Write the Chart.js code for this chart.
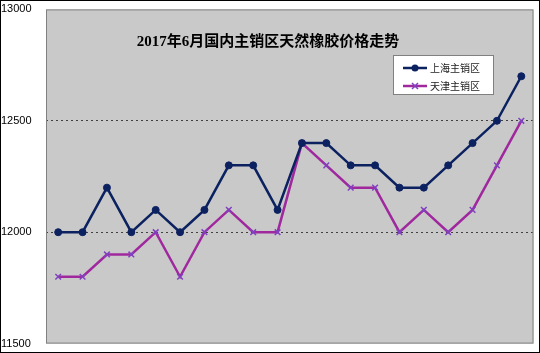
<!DOCTYPE html>
<html>
<head>
<meta charset="utf-8">
<script src="https://cdn.jsdelivr.net/npm/chart.js@4/dist/chart.umd.min.js"></script>
<style>
  html, body { margin: 0; padding: 0; background: #fff; }
  #wrap { position: relative; width: 540px; height: 353px; box-sizing: border-box; border: 1px solid #000; }
  #legend {
    position: absolute; left: 392px; top: 54px; width: 101px; height: 40px;
    background: #fff; border: 1px solid #808080; box-sizing: border-box;
    font-family: "Noto Sans CJK SC", sans-serif; font-size: 10px; color: #222;
  }
  .item { position: absolute; left: 8px; height: 14px; line-height: 14px; }
  .item canvas { vertical-align: middle; }
  .item span { vertical-align: middle; margin-left: 2px; }
</style>
</head>
<body>
<div id="wrap">
  <canvas id="c" width="538" height="351"></canvas>
  <div id="legend">
    <div class="item" style="top:4px"><canvas id="l1" width="26" height="10"></canvas><span>上海主销区</span></div>
    <div class="item" style="top:22px"><canvas id="l2" width="26" height="10"></canvas><span>天津主销区</span></div>
  </div>
</div>
<script>
// 数据
const days = ["1","2","3","4","5","6","7","8","9","10","11","12","13","14","15","16","17","18","19","20"];
const shanghai = [12000, 12000, 12200, 12000, 12100, 12000, 12100, 12300, 12300, 12100, 12400, 12400, 12300, 12300, 12200, 12200, 12300, 12400, 12500, 12700];
const tianjin = [11800, 11800, 11900, 11900, 12000, 11800, 12000, 12100, 12000, 12000, 12400, 12300, 12200, 12200, 12000, 12100, 12000, 12100, 12300, 12500];
const yTicks = [11500, 12000, 12500, 13000];
const titleText = "2017年6月国内主销区天然橡胶价格走势";

const navy = "#0b2160";
const purple = "#a0289f";

// 绘图区背景、边框和标题
const plotBg = {
    id: "plotBg",
    beforeDraw(chart) {
        const { ctx, chartArea: a } = chart;
        ctx.save();
        ctx.fillStyle = "#c9c9c9";
        ctx.fillRect(a.left, a.top, a.right - a.left, a.bottom - a.top);
        ctx.restore();
    },
    afterDraw(chart) {
        const { ctx, chartArea: a } = chart;
        ctx.save();
        ctx.strokeStyle = "#808080";
        ctx.lineWidth = 1;
        ctx.strokeRect(a.left + 0.5, a.top + 0.5, a.right - a.left - 1, a.bottom - a.top - 1);
        ctx.fillStyle = "#000";
        ctx.font = "bold 15px 'Liberation Serif', 'Noto Sans CJK SC', serif";
        ctx.textAlign = "center";
        ctx.textBaseline = "middle";
        ctx.fillText(titleText, 267, 41);
        ctx.restore();
    }
};

new Chart(document.getElementById("c"), {
    type: "line",
    data: {
        labels: days,
        datasets: [
            {
                label: "上海主销区",
                data: shanghai,
                borderColor: navy,
                backgroundColor: navy,
                borderWidth: 2.5,
                pointStyle: "circle",
                pointRadius: 3.5,
                pointBorderWidth: 1,
                tension: 0
            },
            {
                label: "天津主销区",
                data: tianjin,
                borderColor: purple,
                backgroundColor: purple,
                borderWidth: 2.5,
                pointStyle: "crossRot",
                pointRadius: 4,
                pointBorderColor: "#8040c0",
                pointBorderWidth: 1.5,
                tension: 0
            }
        ]
    },
    options: {
        responsive: false,
        animation: false,
        layout: { padding: { top: 0, right: 5, bottom: 8, left: 0 } },
        plugins: { legend: { display: false }, tooltip: { enabled: false } },
        scales: {
            x: {
                display: false,
                offset: true
            },
            y: {
                min: 11500,
                max: 13000,
                afterBuildTicks(scale) { scale.ticks = yTicks.map(v => ({ value: v })); },
                afterFit(scale) { scale.width = 45; },
                ticks: {
                    color: "#000",
                    font: { family: "Liberation Sans, Arial, sans-serif", size: 11, lineHeight: 0.8 },
                    crossAlign: "far",
                    padding: 4,
                    callback: v => String(v)
                },
                grid: {
                    drawTicks: false,
                    color: ctx => (ctx.tick && (ctx.tick.value === 12000 || ctx.tick.value === 12500)) ? "#404040" : "rgba(0,0,0,0)",
                    lineWidth: 1
                },
                border: { display: false, dash: [2, 3] }
            }
        }
    },
    plugins: [plotBg]
});

// 图例样本
function drawSample(id, color, style) {
    const ctx = document.getElementById(id).getContext("2d");
    ctx.strokeStyle = color;
    ctx.lineWidth = 2.5;
    ctx.beginPath(); ctx.moveTo(1, 5); ctx.lineTo(25, 5); ctx.stroke();
    if (style === "circle") {
        ctx.fillStyle = color;
        ctx.beginPath(); ctx.arc(13, 5, 3.5, 0, Math.PI * 2); ctx.fill();
    } else {
        ctx.lineWidth = 1.5;
        ctx.strokeStyle = "#8040c0";
        ctx.beginPath();
        ctx.moveTo(10, 2); ctx.lineTo(16, 8); ctx.moveTo(16, 2); ctx.lineTo(10, 8);
        ctx.stroke();
    }
}
drawSample("l1", navy, "circle");
drawSample("l2", purple, "cross");
</script>
</body>
</html>
